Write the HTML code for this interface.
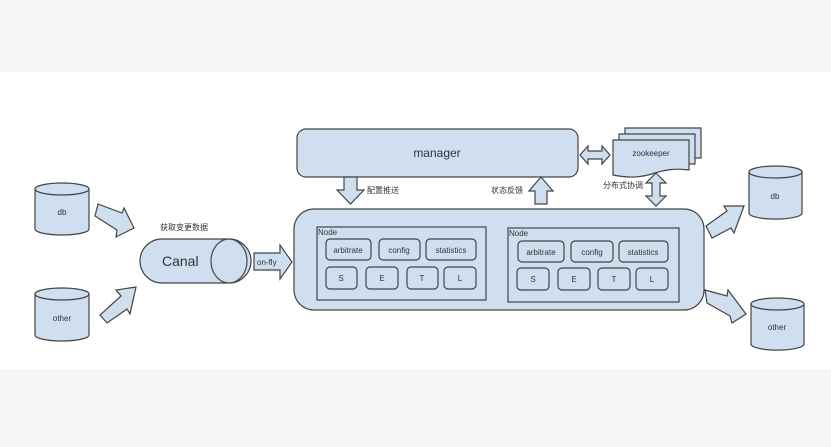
<!DOCTYPE html>
<html><head><meta charset="utf-8"><style>
html,body{margin:0;padding:0;background:#f6f6f6;}
svg{display:block;}
text{font-family:"Liberation Sans","Noto Sans CJK SC",sans-serif;fill:#333;}
</style></head><body>
<svg width="831" height="447" viewBox="0 0 831 447" xmlns="http://www.w3.org/2000/svg">
<rect x="0" y="0" width="831" height="447" fill="#f6f6f6"/>
<rect x="0" y="72" width="831" height="297" fill="#ffffff"/>
<g stroke="#444" stroke-width="1.2" fill="#cfdff0">
<!-- left db cylinder -->
<path d="M35,189 v40 a27,6 0 0 0 54,0 v-40"/>
<ellipse cx="62" cy="189" rx="27" ry="6"/>
<path d="M35,294 v41 a27,6 0 0 0 54,0 v-41"/>
<ellipse cx="62" cy="294" rx="27" ry="6"/>
<!-- right cylinders -->
<path d="M749,172 v41 a26,6 0 0 0 53,0 v-41"/>
<ellipse cx="775.5" cy="172" rx="26.5" ry="6"/>
<path d="M751,304 v40 a26,6 0 0 0 53,0 v-40"/>
<ellipse cx="777.5" cy="304" rx="26.5" ry="6"/>
<!-- arrows left -->
<path d="M95,216 L98,204 L122,213 L124,208 L134,228 L116,237 L117,230 Z"/>
<path d="M100,315 L107,323 L127,309 L130,314 L136,287 L116,290 L121,296 Z"/>
<!-- arrows right -->
<path d="M706,226 L712,238 L731,228 L734,233 L744,206 L724,206 L727,211 Z"/>
<path d="M707,303 L705,290 L727,296 L728,290 L746,314 L732,323 L730,316 Z"/>
<!-- canal -->
<path d="M162,239 H229 A22,22 0 0 1 229,283 H162 A22,22 0 0 1 162,239 Z"/>
<ellipse cx="229" cy="261" rx="18" ry="22"/>
<!-- on-fly arrow -->
<path d="M254,253 H280 V245 L292,262 L280,279 V270 H254 Z"/>
<!-- main box -->
<rect x="294" y="209" width="410" height="101" rx="20"/>
<!-- manager -->
<rect x="297" y="129" width="281" height="48" rx="9"/>
<!-- manager<->zk -->
<path d="M580,155 L588,146 V151 H602 V146 L610,155 L602,164 V159 H588 V164 Z"/>
<!-- zookeeper docs -->
<path d="M625,128 H701 V158 H625 Z"/>
<path d="M619,134 H695 V164 H619 Z"/>
<path d="M613,140 H689 V170 C675,168 665,170 655,173 C640,178 628,178 613,175 Z"/>
<!-- 配置推送 down -->
<path d="M344,177 H357 V190 H364 L350.5,204 L337,190 H344 Z"/>
<!-- 状态反馈 up -->
<path d="M535,204 H547 V191 H553 L541,177 L529,191 H535 Z"/>
<!-- zk vertical double arrow -->
<path d="M656,173 L666,183 H660 V196 H666 L656,206 L646,196 H652 V183 H646 Z"/>
<!-- nodes -->
<rect x="317" y="227" width="169" height="73" fill="none"/>
<rect x="508" y="228" width="171" height="74" fill="none"/>
<rect x="326" y="239" width="45" height="21" rx="4"/>
<rect x="379" y="239" width="41" height="21" rx="4"/>
<rect x="426" y="239" width="50" height="21" rx="4"/>
<rect x="326" y="267" width="31" height="22" rx="4"/>
<rect x="366" y="267" width="32" height="22" rx="4"/>
<rect x="407" y="267" width="31" height="22" rx="4"/>
<rect x="444" y="267" width="32" height="22" rx="4"/>
<rect x="518" y="241" width="46" height="21" rx="4"/>
<rect x="571" y="241" width="42" height="21" rx="4"/>
<rect x="619" y="241" width="49" height="21" rx="4"/>
<rect x="517" y="268" width="32" height="22" rx="4"/>
<rect x="558" y="268" width="32" height="22" rx="4"/>
<rect x="598" y="268" width="32" height="22" rx="4"/>
<rect x="636" y="268" width="32" height="22" rx="4"/>
</g>
<g font-size="8" text-anchor="middle">
<text x="62" y="215">db</text>
<text x="62" y="321">other</text>
<text x="775" y="199">db</text>
<text x="777" y="330">other</text>
<text x="651" y="156">zookeeper</text>
<text x="348" y="253">arbitrate</text>
<text x="399" y="253">config</text>
<text x="451" y="253">statistics</text>
<text x="341" y="281">S</text>
<text x="382" y="281">E</text>
<text x="422" y="281">T</text>
<text x="460" y="281">L</text>
<text x="541" y="255">arbitrate</text>
<text x="592" y="255">config</text>
<text x="643" y="255">statistics</text>
<text x="533" y="282">S</text>
<text x="574" y="282">E</text>
<text x="614" y="282">T</text>
<text x="652" y="282">L</text>
</g>
<g font-size="8">
<text x="318" y="235">Node</text>
<text x="509" y="236">Node</text>
<text x="257" y="265">on-fly</text>
<text x="160" y="230">获取变更数据</text>
<text x="367" y="193">配置推送</text>
<text x="491" y="193">状态反馈</text>
<text x="603" y="188">分布式协调</text>
</g>
<text x="162" y="266" font-size="14">Canal</text>
<text x="437" y="157" font-size="12" text-anchor="middle">manager</text>
</svg>
</body></html>
